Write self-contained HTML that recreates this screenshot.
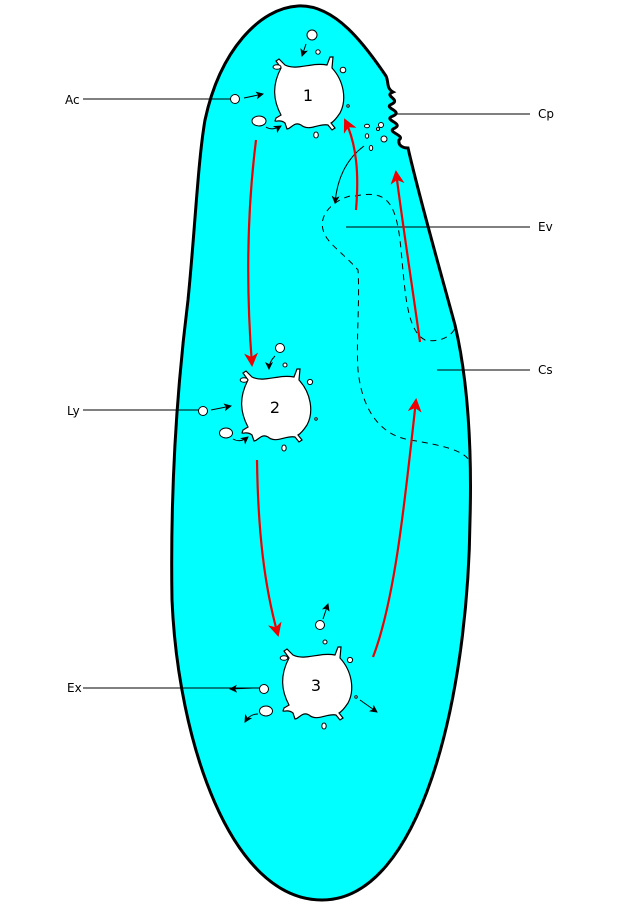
<!DOCTYPE html>
<html><head><style>html,body{margin:0;padding:0;background:#fff}svg{display:block}text{font-family:"DejaVu Sans","Liberation Sans",sans-serif}</style></head>
<body>
<svg width="640" height="906" viewBox="0 0 640 906" xmlns="http://www.w3.org/2000/svg">
<defs>
<marker id="bk" markerWidth="8" markerHeight="8" refX="7" refY="4" orient="auto" markerUnits="userSpaceOnUse"><path d="M0,0 L8,4 L0,8 L2,4Z" fill="#000"/></marker>
<marker id="rd" markerWidth="14" markerHeight="14" refX="12" refY="7" orient="auto" markerUnits="userSpaceOnUse"><path d="M0,0 L14,7 L0,14 L4,7Z" fill="#e00"/></marker>
<g id="vac">
<path d="M-28,-27 L-33,-34 L-30,-36 L-24,-30 C-12,-24 2,-33 18,-30 L21,-38 L24,-38 L23,-27 C35,-14 38,5 31,18 C27,24 24,27 22,28 L26,33 L23,35 L19,30 C10,28 0,37 -8,30 C-15,26 -18,34 -22,34 L-24,28 C-29,24 -33,27 -34,26 L-33,23 L-28,20 C-36,5 -37,-10 -28,-27 Z" fill="#fff" stroke="#000" stroke-width="1.2"/>
</g>
</defs>
<path d="M298,6 C335,4 365,45 386,76 C389,82 386,88 393,92 C383,96 401,99 392,104 C382,108 404,111 393,116 C382,120 404,123 395,128 C385,132 406,135 399,140 C398,145 402,148 408,148 C420,200 440,270 455,325 C468,380 472,450 470,520 C468,700 420,900 322,900 C230,900 178,740 172,600 C170,480 178,380 188,300 C195,230 198,160 205,120 C220,50 260,8 298,6 Z" fill="#00ffff" stroke="#000" stroke-width="3"/>
<g fill="none" stroke="#000" stroke-width="1" stroke-dasharray="6,5">
<path d="M350,196 C335,200 315,215 325,235 C330,245 345,255 358,270 C360,300 356,340 358,370 C362,410 380,435 410,440 C440,445 465,450 470,462"/>
<path d="M355,196 C385,190 395,200 400,240 C405,285 405,330 425,340 C440,343 452,336 455,328"/>
</g>
<g stroke="#000" stroke-width="1" fill="none">
<line x1="83" y1="99" x2="232" y2="99"/><line x1="396" y1="114" x2="530" y2="114"/>
<line x1="346" y1="227" x2="530" y2="227"/><line x1="437" y1="370" x2="530" y2="370"/>
<line x1="83" y1="410" x2="200" y2="410"/>
<line x1="83" y1="688" x2="260" y2="688"/>
</g>
<g font-size="12" fill="#000"><text x="65" y="104">Ac</text><text x="538" y="118">Cp</text><text x="538" y="231">Ev</text><text x="538" y="374">Cs</text><text x="67" y="415">Ly</text><text x="67" y="692">Ex</text></g>
<use href="#vac" transform="translate(309,95)"/>
<use href="#vac" transform="translate(276,407)"/>
<use href="#vac" transform="translate(317,685)"/>
<g font-size="16" fill="#000" text-anchor="middle"><text x="308" y="101">1</text><text x="275" y="413">2</text><text x="316" y="691">3</text></g>
<g fill="#fff" stroke="#000" stroke-width="1">
<circle cx="312" cy="35" r="5"/><circle cx="318" cy="52" r="2.2"/><ellipse cx="277" cy="67" rx="4" ry="2.3"/><circle cx="343" cy="70" r="2.8"/><circle cx="348" cy="106" r="1.2"/><ellipse cx="316" cy="135" rx="2.3" ry="3"/><ellipse cx="259" cy="121" rx="7" ry="5"/><circle cx="235" cy="99" r="4.5"/>
<ellipse cx="367" cy="126" rx="2.5" ry="1.8"/><circle cx="381" cy="125" r="2.5"/><circle cx="378" cy="129" r="1.5"/><ellipse cx="367" cy="136" rx="1.7" ry="2.2"/><circle cx="384" cy="139" r="3"/><ellipse cx="371" cy="148" rx="1.7" ry="2.5"/>
<circle cx="280" cy="348" r="4.5"/><circle cx="285" cy="365" r="2"/><ellipse cx="244" cy="380" rx="3.8" ry="2.3"/><circle cx="310" cy="382" r="2.6"/><circle cx="316" cy="419" r="1.2"/><ellipse cx="284" cy="448" rx="2.2" ry="3"/><ellipse cx="226" cy="433" rx="6.5" ry="5"/><circle cx="203" cy="411" r="4.5"/>
<circle cx="320" cy="625" r="4.5"/><circle cx="325" cy="642" r="2"/><ellipse cx="284" cy="658" rx="3.8" ry="2.3"/><circle cx="350" cy="660" r="2.6"/><circle cx="356" cy="697" r="1.2"/><ellipse cx="324" cy="726" rx="2.2" ry="3"/><ellipse cx="266" cy="711" rx="6.5" ry="5"/><circle cx="264" cy="689" r="4.5"/>
</g>
<g stroke="#000" stroke-width="1" fill="none" marker-end="url(#bk)">
<line x1="244" y1="98" x2="263" y2="94"/><path d="M266,127 C270,130 276,129 281,126"/><line x1="306" y1="44" x2="302" y2="56"/>
<line x1="211" y1="410" x2="231" y2="406"/><path d="M233,439 C238,442 243,441 248,437"/><path d="M275,356 C271,360 269,364 269,369"/>
<line x1="253" y1="688" x2="230" y2="689"/><path d="M258,714 C252,714 248,717 245,722"/><line x1="323" y1="619" x2="328" y2="604"/><line x1="360" y1="700" x2="377" y2="712"/>
<path d="M364,146 C345,160 337,180 335,203"/>
</g>
<g stroke="#e00" stroke-width="2.2" fill="none" marker-end="url(#rd)">
<path d="M256,140 C246,220 247,300 252,365"/>
<path d="M257,460 C258,530 264,585 278,635"/>
<path d="M373,657 C395,600 405,500 416,400"/>
<path d="M420,342 C412,285 402,220 396,172"/>
<path d="M356,210 C359,175 357,145 345,120"/>
</g>
</svg>
</body></html>
